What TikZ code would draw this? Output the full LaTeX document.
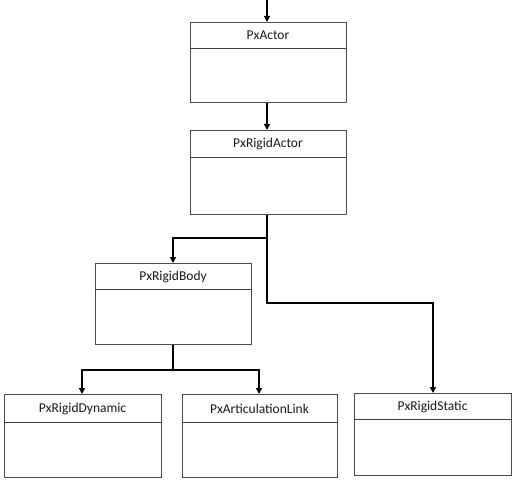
\documentclass[tikz,border=0pt]{standalone}
\usepackage{fontspec}
\setmainfont{Carlito}
\usetikzlibrary{arrows.meta,calc}
\tikzset{
  classbox/.style={draw=black!70, line width=1pt, rectangle, inner sep=0pt, anchor=north west, fill=white},
  divline/.style={draw=black!75, line width=0.9pt},
  lbl/.style={font=\fontsize{13.5}{16}\selectfont, inner sep=0pt, text=black!90},
  conn/.style={draw=black, line width=1.5pt, -{Triangle[length=6pt,width=6pt]}},
  plain/.style={draw=black, line width=1.5pt}
}
% name, x1, y1, x2, y2, divider y, text
\newcommand{\umlbox}[7]{%
  \node[classbox, minimum width={(#4-#2)*1pt}, minimum height={(#5-#3)*1pt}] (#1) at (#2,#3) {};
  \draw[divline] (#2,#6) -- (#4,#6);
  \node[lbl] (#1-t) at ({(#2+#4)/2},{(#3+#6)/2+0.5}) {#7};
}
\begin{document}
\begin{tikzpicture}[x=1pt,y=-1pt]
\useasboundingbox (0,0) rectangle (521,481);
\fill[white] (0,0) rectangle (521,481);

\umlbox{actor}{190}{22}{346}{102}{48}{PxActor}
\umlbox{ractor}{190}{130}{346}{214}{157}{PxRigidActor}
\umlbox{rbody}{95}{263}{251}{344}{289}{PxRigidBody}
\umlbox{rdyn}{4}{394}{161}{477}{422}{PxRigidDynamic}
\umlbox{alink}{182}{394}{337}{477}{422}{PxArticulationLink}
\umlbox{rstatic}{354}{393}{511}{475}{419}{PxRigidStatic}

\coordinate (top) at (267,0);
\coordinate (j1) at (267,238);
\coordinate (j2) at (267,303);
\coordinate (j3) at (173,370);

\draw[conn] (top) -- (top |- actor.north);
\draw[conn] (actor.south -| top) -- (ractor.north -| top);
\draw[plain] (ractor.south -| top) -- (j1);
\draw[conn] (j1) -- (173,238) -- (rbody.north -| 173,0);
\draw[conn] (j1) -- (j2) -- (433,303) -- (rstatic.north -| 433,0);
\draw[plain] (rbody.south -| j3) -- (j3);
\draw[conn] (j3) -- (82,370) -- (rdyn.north -| 82,0);
\draw[conn] (j3) -- (259,370) -- (alink.north -| 259,0);
\end{tikzpicture}
\end{document}
